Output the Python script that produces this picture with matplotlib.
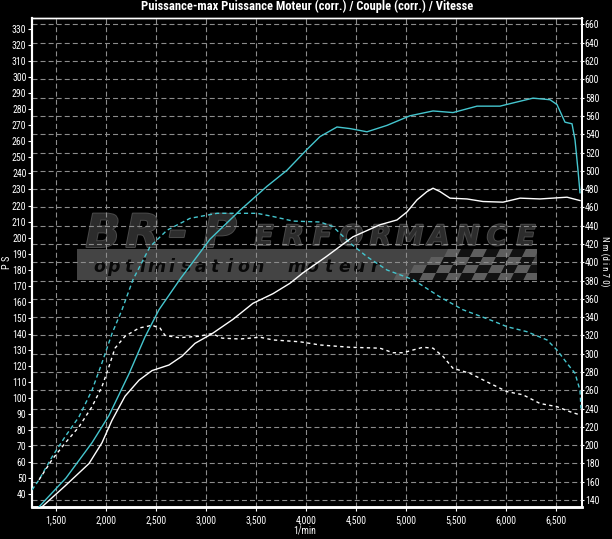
import matplotlib
matplotlib.use('Agg')
import matplotlib.pyplot as plt
import matplotlib.font_manager as fm
import matplotlib.patheffects as pe
from matplotlib.patches import Rectangle, Polygon
import numpy as np

# ---------------- data ----------------
rpm_ticks = [1500, 2000, 2500, 3000, 3500, 4000, 4500, 5000, 5500, 6000, 6500]
rpm_tick_labels = ['1,500', '2,000', '2,500', '3,000', '3,500', '4,000',
                   '4,500', '5,000', '5,500', '6,000', '6,500']
ps_ticks = list(range(40, 331, 10))
nm_ticks = list(range(140, 661, 20))

# tuned power (PS) - cyan solid
tuned_power_rpm = [1330, 1600, 1860, 2030, 2230, 2390, 2530, 2740, 3040, 3340, 3610, 3810,
                   4010, 4140, 4310, 4440, 4610, 4810, 5040, 5270, 5470, 5710, 5940, 6070,
                   6270, 6440, 6510, 6590, 6660, 6690, 6720, 6740]
tuned_power_ps = [32, 50, 72, 89, 115, 138, 155, 174, 199, 217, 232, 242,
                  255, 263, 269, 268, 266, 270, 276, 279, 278, 282, 282, 284,
                  287, 286, 283, 272, 271, 261, 242, 228]

# stock power (PS) - white solid
stock_power_rpm = [1360, 1590, 1830, 1960, 2060, 2190, 2330, 2460, 2630, 2760, 2890, 3060,
                   3270, 3470, 3670, 3840, 3970, 4200, 4470, 4740, 4910, 5010, 5110, 5210,
                   5270, 5340, 5440, 5610, 5770, 5970, 6140, 6340, 6610, 6740]
stock_power_ps = [32, 45, 59, 72, 86, 101, 111, 117, 120.5, 126, 134, 140,
                  149, 159, 165, 171.5, 178, 188, 200.5, 208, 211, 216, 223.5, 228.7,
                  230.8, 228.7, 224.6, 224.1, 222.5, 222.1, 224.6, 224.1, 225.2, 223.1]

# tuned torque (Nm) - cyan dashed
tuned_torque_rpm = [1260, 1330, 1460, 1590, 1730, 1860, 1960, 2060, 2160, 2270, 2440, 2610,
                    2840, 3110, 3340, 3510, 3670, 3870, 4140, 4270, 4440, 4610, 4810, 5070,
                    5340, 5570, 5840, 6010, 6210, 6410, 6510, 6610, 6690, 6740, 6750]
tuned_torque_nm = [151, 162, 187, 209, 231, 260, 290, 322, 348, 381, 417, 435,
                   448, 453.5, 453.5, 453.5, 450, 445, 444, 439, 421, 406, 391.5, 381,
                   362, 348, 337, 329.5, 324, 315, 304, 289.5, 278.5, 260, 240]

# stock torque (Nm) - white dashed
stock_torque_rpm = [1330, 1460, 1590, 1730, 1860, 1960, 2030, 2090, 2190, 2330, 2460, 2540,
                    2590, 2730, 2930, 3060, 3160, 3340, 3540, 3670, 3940, 4140, 4440, 4740,
                    4870, 4970, 5070, 5170, 5270, 5370, 5470, 5640, 5840, 6010, 6170, 6340,
                    6510, 6640, 6740]
stock_torque_nm = [162, 184, 202, 220, 242, 264, 286, 306, 319, 328, 331, 328,
                   320, 317.5, 319, 322, 317, 316, 318, 315, 313, 309.5, 307, 306,
                   301, 301, 304, 307, 306, 297, 284, 278.5, 267.5, 258.5, 255, 245.5,
                   242, 236.5, 233]

title = 'Puissance-max Puissance Moteur (corr.) / Couple (corr.) / Vitesse'

# ---------------- fonts ----------------
avail = {f.name for f in fm.fontManager.ttflist}
NARROW = next((n for n in ['Liberation Sans Narrow', 'Arial Narrow', 'Roboto Condensed',
                           'DejaVu Sans'] if n in avail), 'DejaVu Sans')
plt.rcParams['font.family'] = [NARROW, 'DejaVu Sans']
plt.rcParams['lines.scale_dashes'] = False

CYAN = '#45c6cf'
WHITE = '#ffffff'
GRID = '#8c8c8c'

W, H = 612, 539
fig = plt.figure(figsize=(W / 100, H / 100), dpi=100, facecolor='black')

# ---------------- background watermark (pixel coords) ----------------
bg = fig.add_axes([0, 0, 1, 1], zorder=0)
bg.set_xlim(0, W)
bg.set_ylim(H, 0)
bg.axis('off')
bg.set_facecolor('black')

band = Rectangle((77, 249), 460, 31, facecolor='#444444', edgecolor='none')
bg.add_patch(band)

# checkered flag
cw, ch, sk = 13, 8, 4
for r in range(4):
    yb = 281 - r * ch
    yt = yb - ch
    for c in range(-2, 14):
        xb = 380 + c * cw + r * sk
        xc = xb + cw / 2 + sk / 2
        yc = (yb + yt) / 2
        if xc < 393 + (281 - yc) * 1.7 or xc > 537:
            continue
        col = '#121212' if (c + r) % 2 == 0 else '#5e5e5e'
        poly = Polygon([(xb, yb), (xb + cw, yb), (xb + cw + sk, yt), (xb + sk, yt)],
                       closed=True, facecolor=col, edgecolor='none')
        bg.add_patch(poly)
        poly.set_clip_path(band)

stroke = [pe.withStroke(linewidth=1.4, foreground='#4a4a4a')]
for ch_, xc in zip('BR-P', [103, 143, 178, 220]):
    bg.text(xc, 247, ch_, fontsize=33, fontweight='bold', fontstyle='italic',
            family='DejaVu Sans', color='#2c2c2c', ha='center', va='baseline',
            path_effects=stroke)
for ch_, xc in zip('ERFORMANCE', np.linspace(264, 526, 10)):
    bg.text(xc, 245, ch_, fontsize=20, fontweight='bold', fontstyle='italic',
            family='DejaVu Sans', color='#2c2c2c', ha='center', va='baseline',
            path_effects=stroke)
for ch_, xc in zip('optimisation', np.linspace(99, 258, 12)):
    bg.text(xc, 272, ch_, fontsize=12.5, fontweight='bold', fontstyle='italic',
            family='DejaVu Sans', color='#080808', ha='center', va='baseline')
for ch_, xc in zip('moteur', np.linspace(297, 375, 6)):
    bg.text(xc, 272, ch_, fontsize=12.5, fontweight='bold', fontstyle='italic',
            family='DejaVu Sans', color='#080808', ha='center', va='baseline')

# ---------------- main axes ----------------
L, R, T, B = 32, 582, 18, 507
ax = fig.add_axes([L / W, 1 - B / H, (R - L) / W, (B - T) / H], zorder=2)
ax.set_facecolor('none')
ax2 = ax.twinx()
ax2.set_facecolor('none')

ax.set_xlim(1260, 6760)
ax.set_ylim(31.9, 337.0)
ax2.set_ylim(132.3, 667.1)

ax.set_xticks(rpm_ticks)
ax.set_xticklabels(rpm_tick_labels)
ax.set_yticks(ps_ticks)
ax.set_yticklabels([str(v) for v in ps_ticks])
ax2.set_yticks(nm_ticks)
ax2.set_yticklabels([str(v) for v in nm_ticks])

ax.grid(axis='x', color=GRID, linestyle=(0, (3.6, 2.2)), linewidth=0.8)
ax.grid(axis='y', visible=False)
ax2.set_axisbelow(True)
ax2.grid(axis='y', color=GRID, linestyle=(0, (3.6, 2.2)), linewidth=0.8)

# curves (power on the PS scale, torque on the Nm scale)
ax2.plot(tuned_torque_rpm, tuned_torque_nm, color=CYAN, lw=1.0, linestyle=(0, (3, 2.2)), zorder=3)
ax2.plot(stock_torque_rpm, stock_torque_nm, color=WHITE, lw=1.0, linestyle=(0, (2.4, 2.4)), zorder=3)
ax2.plot(tuned_power_rpm, tuned_power_ps, color=CYAN, lw=1.0, transform=ax.transData, zorder=4)
ax2.plot(stock_power_rpm, stock_power_ps, color=WHITE, lw=1.0, transform=ax.transData, zorder=4)
ax2.set_ylim(132.3, 667.1)
ax2.set_xlim(1260, 6760)

for a in (ax, ax2):
    for s in a.spines.values():
        s.set_color('white')
    a.spines['left'].set_linewidth(1.5)
    a.spines['bottom'].set_linewidth(1.8)
    a.spines['right'].set_linewidth(1.3)
    a.spines['top'].set_linewidth(1.0)

ax.tick_params(axis='x', colors='white', labelsize=7, length=3, width=0.8, pad=3)
ax.tick_params(axis='y', colors='white', labelsize=7, length=3, width=0.8, pad=1)
ax2.tick_params(axis='y', colors='white', labelsize=7, length=1.5, width=0.8, pad=0.5)

ax.set_xlabel('1/min', color='white', fontsize=7, va='center')
ax.xaxis.set_label_coords((305 - L) / (R - L), (B - 531) / (B - T))
ax.set_ylabel('P S', color='white', fontsize=7.5, va='center')
ax.yaxis.set_label_coords((7 - L) / (R - L), (B - 262) / (B - T))
ax2.set_ylabel('N m (d i n 7 0)', color='white', fontsize=6.5, rotation=270, va='center')
ax2.yaxis.set_label_coords((605 - L) / (R - L), (B - 261) / (B - T))

fig.text(307 / W, 1 - 6 / H, title, color='white', fontsize=9, fontweight='bold',
         ha='center', va='center')

fig.savefig('out.png', dpi=100, facecolor='black')
